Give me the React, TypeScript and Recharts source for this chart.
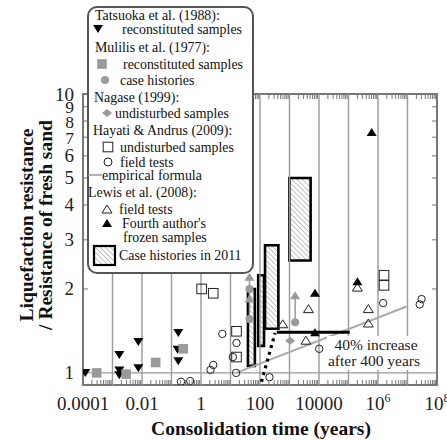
import React from "react";
import { ComposedChart, Scatter, XAxis, YAxis, ReferenceLine, ReferenceArea } from "recharts";

const W = 447;
const H = 440;
const PLOT_TOP = 94;
const PLOT_BOTTOM = 385;
const PLOT_RIGHT = 437;
const PLOT_LEFT = 83;
const SERIF = '"Liberation Serif", "Times New Roman", serif';

type Pt = [number, number];

// [consolidation time (years), resistance ratio]
const tatsuokaReconstituted: Pt[] = [
  [0.00012, 1.0], [0.0017, 1.16], [0.0017, 1.02], [0.0017, 0.98],
  [0.0075, 1.29], [0.0075, 1.04], [0.17, 1.39], [0.16, 1.21], [0.17, 1.1],
];
const mulilisReconstituted: Pt[] = [[0.00029, 1.0], [0.0029, 0.99], [0.029, 1.09], [0.25, 1.22]];
const mulilisCaseHistories: Pt[] = [[44, 2.0], [44, 1.56], [1550, 1.52]];
const caseHistoryArrowHeads: Pt[] = [[44, 2.21], [44, 1.85], [1550, 1.9]];
const nagaseUndisturbed: Pt[] = [[1050, 1.305]];
const hayatiUndisturbed: Pt[] = [[1.05, 2.0], [2.6, 1.93], [16, 1.41], [16, 1.14], [1.6e6, 2.24], [1.6e6, 2.06]];
const hayatiFieldTests: Pt[] = [
  [0.21, 0.93], [0.43, 0.935], [5.3, 1.38], [2.1, 1.025], [2.6, 1.068], [16, 1.28],
  [12, 1.14], [15.5, 1.0], [209, 0.965], [10200, 1.22], [1.5e6, 1.78], [3e7, 1.84], [2.6e7, 1.76],
];
const lewisFieldTests: Pt[] = [[4400, 1.7], [3600, 1.31], [2e5, 2.03], [4.7e5, 1.7], [4.7e5, 1.51], [590, 1.5]];
const lewisFrozen: Pt[] = [[6.1e5, 7.3], [7300, 1.94], [2e5, 2.13], [7300, 1.4]];

const empiricalFormula: Pt[] = [[15.5, 1.0], [9.3e6, 1.73]];
const increaseLine: Pt[] = [[370, 1.4], [1.1e5, 1.4]];
const dottedTrend: Pt[] = [[112, 0.93], [324, 1.39]];
const arrowStems: Pt[][] = [[[44, 1.56], [44, 2.21]], [[1550, 1.52], [1550, 1.9]]];

// case histories in 2011: [t1, t2, r1, r2]
const caseHistories2011: [number, number, number, number][] = [
  [39, 67, 1.06, 2.0],
  [87, 137, 1.25, 2.24],
  [148, 420, 1.44, 2.87],
  [990, 5200, 2.53, 5.0],
];

const xLabelValues = [1e-4, 1e-2, 1, 100, 1e4, 1e6, 1e8];
const xLabels = ["0.0001", "0.01", "1", "100", "10000", "10^6", "10^8"];
const decades = [1e-3, 1e-2, 1e-1, 1, 10, 100, 1e3, 1e4, 1e5, 1e6, 1e7];
const minorX: number[] = [];
for (let d = -4; d < 8; d++) for (let m = 2; m <= 9; m++) minorX.push(m * Math.pow(10, d));
const yTicks = [1, 2, 3, 4, 5, 6, 7, 8, 9, 10];

const rows = (pts: Pt[]) => pts.map(([t, r]) => ({ t, r }));
const seg = (pts: Pt[]) => pts.map(([x, y]) => ({ x, y }));

const GRAY = "#9a9a9a";

const downTri = (p: any) => (
  <path d={`M${p.cx - 5},${p.cy - 4}L${p.cx + 5},${p.cy - 4}L${p.cx},${p.cy + 4}Z`} fill="#000" />
);
const upTri = (fill: string, stroke = "none") => (p: any) => (
  <path d={`M${p.cx - 5},${p.cy + 4}L${p.cx + 5},${p.cy + 4}L${p.cx},${p.cy - 4}Z`} fill={fill} stroke={stroke} strokeWidth={1} />
);
const square = (fill: string, stroke = "none") => (p: any) => (
  <rect x={p.cx - 4.8} y={p.cy - 4.8} width={9.6} height={9.6} fill={fill} stroke={stroke} strokeWidth={1} />
);
const circle = (fill: string, stroke = "none", r = 3.7) => (p: any) => (
  <circle cx={p.cx} cy={p.cy} r={r} fill={fill} stroke={stroke} strokeWidth={1} />
);
const diamond = (p: any) => (
  <path d={`M${p.cx - 5},${p.cy}L${p.cx},${p.cy - 4}L${p.cx + 5},${p.cy}L${p.cx},${p.cy + 4}Z`} fill={GRAY} />
);

const sameVal = (a: number, b: number) => Math.abs(Math.log10(a) - Math.log10(b)) < 1e-6;

function XTick(props: any) {
  const { x, payload } = props;
  const v = payload.value;
  const idx = xLabelValues.findIndex((l) => sameVal(l, v));
  if (idx < 0) {
    return (
      <g>
        <line x1={x} x2={x} y1={PLOT_BOTTOM} y2={PLOT_BOTTOM - 5} stroke="#777" strokeWidth={1} />
        <line x1={x} x2={x} y1={PLOT_TOP} y2={PLOT_TOP + 5} stroke="#777" strokeWidth={1} />
      </g>
    );
  }
  const lbl = xLabels[idx];
  const [base, sup] = lbl.split("^");
  return (
    <text x={x} y={410} textAnchor="middle" fontFamily={SERIF} fontSize={19} fill="#222">
      <tspan>{base}</tspan>
      {sup && (
        <tspan dy={-8} fontSize={12}>
          {sup}
        </tspan>
      )}
    </text>
  );
}

function YTick(props: any) {
  const { y, payload } = props;
  const v = payload.value;
  return (
    <g>
      <text x={74} y={y + 6.5} textAnchor="end" fontFamily={SERIF} fontSize={v >= 7 && v <= 9 ? 17.5 : 19} fill="#222">
        {v}
      </text>
      {v > 1 && v < 10 && (
        <>
          <line x1={PLOT_LEFT} x2={PLOT_LEFT + 5} y1={y} y2={y} stroke="#777" strokeWidth={1} />
          <line x1={PLOT_RIGHT} x2={PLOT_RIGHT - 5} y1={y} y2={y} stroke="#777" strokeWidth={1} />
        </>
      )}
    </g>
  );
}

function Legend() {
  const head = { fontFamily: SERIF, fontSize: 13.9, fill: "#111" } as const;
  return (
    <g>
      <rect x={88} y={7} width={165} height={266} rx={9} fill="#fff" stroke="#555" strokeWidth={2} />
      <text x={95} y={20} {...head}>Tatsuoka et al. (1988):</text>
      {downTri({ cx: 98, cy: 29 })}
      <text x={122} y={34} {...head}>reconstituted samples</text>
      <text x={95} y={52} {...head}>Mulilis et al. (1977):</text>
      {square(GRAY)({ cx: 102, cy: 64 })}
      <text x={123} y={69} {...head}>reconstituted samples</text>
      {circle(GRAY, "none", 4)({ cx: 105, cy: 80 })}
      <text x={120} y={85} {...head}>case histories</text>
      <text x={94} y={102} {...head}>Nagase (1999):</text>
      {diamond({ cx: 107, cy: 113 })}
      <text x={115} y={118} {...head}>undisturbed samples</text>
      <text x={93} y={135} {...head}>Hayati &amp; Andrus (2009):</text>
      {square("#fff", "#222")({ cx: 108, cy: 147 })}
      <text x={120} y={152} {...head}>undisturbed samples</text>
      {circle("#fff", "#222", 4)({ cx: 108, cy: 162 })}
      <text x={120} y={167} {...head}>field tests</text>
      <line x1={88} x2={102} y1={175} y2={175} stroke={GRAY} strokeWidth={1.5} />
      <text x={102} y={180} {...head}>empirical formula</text>
      <text x={88} y={197} {...head}>Lewis et al. (2008):</text>
      {upTri("#fff", "#222")({ cx: 107, cy: 209 })}
      <text x={119} y={214} {...head}>field tests</text>
      {upTri("#000")({ cx: 107, cy: 223 })}
      <text x={122} y={228} {...head}>Fourth author's</text>
      <text x={123} y={242} {...head}>frozen samples</text>
      <rect x={94} y={246} width={21} height={19} fill="url(#hatchLegend)" stroke="#000" strokeWidth={2.2} />
      <text x={119} y={260} {...head}>Case histories in 2011</text>
    </g>
  );
}

export default function App() {
  return (
    <div style={{ position: "absolute", left: 0, top: 0, width: W, height: H, background: "#fff", overflow: "hidden" }}>
      <ComposedChart width={W} height={H} margin={{ top: PLOT_TOP, right: W - PLOT_RIGHT, bottom: 0, left: 0 }}>
        <defs>
          <pattern id="hatch" width={3.6} height={3.6} patternUnits="userSpaceOnUse" patternTransform="rotate(-45)">
            <line x1={0} y1={0} x2={0} y2={3.6} stroke="#777" strokeWidth={0.9} />
          </pattern>
        </defs>
        <XAxis
          type="number"
          dataKey="t"
          scale="log"
          domain={[1e-4, 1e8]}
          allowDataOverflow
          ticks={[...minorX, ...xLabelValues]}
          interval={0}
          tick={<XTick />}
          tickLine={false}
          axisLine={false}
          height={H - PLOT_BOTTOM}
        />
        <YAxis
          type="number"
          dataKey="r"
          scale="log"
          domain={[0.905, 10]}
          allowDataOverflow
          ticks={yTicks}
          interval={0}
          tick={<YTick />}
          tickLine={false}
          axisLine={false}
          width={PLOT_LEFT}
        />
        {decades.map((d) => (
          <ReferenceLine key={d} x={d} stroke={GRAY} strokeWidth={1.4} />
        ))}
        <ReferenceLine y={1} stroke={GRAY} strokeWidth={1.4} />

        {arrowStems.map((s, i) => (
          <ReferenceLine key={i} segment={seg(s)} stroke={GRAY} strokeWidth={1.5} />
        ))}
        <ReferenceLine segment={seg(empiricalFormula)} stroke="#aaa" strokeWidth={2} />
        <ReferenceLine segment={seg(dottedTrend)} stroke="#000" strokeWidth={3.2} strokeDasharray="3 4" />

        {caseHistories2011.map(([t1, t2, r1, r2], i) => (
          <ReferenceArea key={i} x1={t1} x2={t2} y1={r1} y2={r2} fill="url(#hatch)" fillOpacity={1} stroke="#000" strokeWidth={2.6} />
        ))}
        <ReferenceLine segment={seg(increaseLine)} stroke="#000" strokeWidth={3} />

        <Scatter data={rows(tatsuokaReconstituted)} shape={downTri} isAnimationActive={false} />
        <Scatter data={rows(mulilisReconstituted)} shape={square(GRAY)} isAnimationActive={false} />
        <Scatter data={rows(mulilisCaseHistories)} shape={circle(GRAY, "none", 4)} isAnimationActive={false} />
        <Scatter data={rows(caseHistoryArrowHeads)} shape={upTri(GRAY)} isAnimationActive={false} />
        <Scatter data={rows(nagaseUndisturbed)} shape={diamond} isAnimationActive={false} />
        <Scatter data={rows(hayatiUndisturbed)} shape={square("none", "#222")} isAnimationActive={false} />
        <Scatter data={rows(hayatiFieldTests)} shape={circle("none", "#222")} isAnimationActive={false} />
        <Scatter data={rows(lewisFieldTests)} shape={upTri("none", "#222")} isAnimationActive={false} />
        <Scatter data={rows(lewisFrozen)} shape={upTri("#000")} isAnimationActive={false} />

        <ReferenceArea x1={1e-4} x2={1e8} y1={0.905} y2={10} fill="none" stroke="#777" strokeWidth={2} />
      </ComposedChart>

      <svg width={W} height={H} style={{ position: "absolute", left: 0, top: 0, pointerEvents: "none" }}>
        <defs>
          <pattern id="hatchLegend" width={3.6} height={3.6} patternUnits="userSpaceOnUse" patternTransform="rotate(-45)">
            <line x1={0} y1={0} x2={0} y2={3.6} stroke="#777" strokeWidth={0.9} />
          </pattern>
        </defs>
        <rect x={327} y={336} width={95} height={34} fill="#fff" />
        <text x={376} y={350} textAnchor="middle" fontFamily={SERIF} fontSize={15.5} fill="#222">
          40% increase
        </text>
        <text x={374} y={366} textAnchor="middle" fontFamily={SERIF} fontSize={15.5} fill="#222">
          after 400 years
        </text>
        <text x={261} y={435} textAnchor="middle" fontFamily={SERIF} fontSize={19.5} fontWeight="bold" fill="#111">
          Consolidation time (years)
        </text>
        <g transform="translate(33,225) rotate(-90)">
          <text x={0} y={0} textAnchor="middle" fontFamily={SERIF} fontSize={19.5} fontWeight="bold" fill="#111">
            Liquefaction resistance
          </text>
          <text x={0} y={19} textAnchor="middle" fontFamily={SERIF} fontSize={19.5} fontWeight="bold" fill="#111">
            / Resistance of fresh sand
          </text>
        </g>
        <Legend />
      </svg>
    </div>
  );
}
